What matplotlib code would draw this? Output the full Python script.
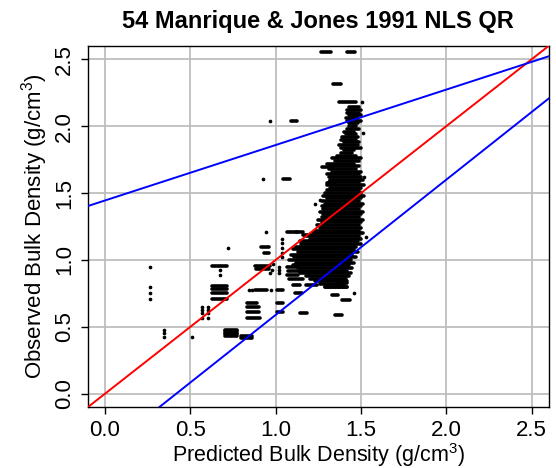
import matplotlib
matplotlib.use("Agg")
import matplotlib.pyplot as plt
import numpy as np

plt.rcParams['font.family'] = ['Liberation Sans', 'DejaVu Sans']
plt.rcParams['mathtext.fontset'] = 'custom'
plt.rcParams['mathtext.rm'] = 'Liberation Sans'

# dense horizontal runs of points: observed y, predicted x from / to
streak_y = [2.555, 2.555, 2.316, 2.18,
            2.14, 2.12, 2.10, 2.08, 2.06, 2.04, 2.02, 2.00, 1.98, 1.96,
            1.94, 1.92, 1.90, 1.88, 1.86, 1.84, 1.82, 1.80, 1.78, 1.76,
            1.74, 1.72, 1.70, 1.68, 1.66, 1.64, 1.62, 1.60, 1.58, 1.56,
            1.54, 1.52, 1.50, 1.48, 1.46, 1.44, 1.42, 1.40, 1.38, 1.36,
            1.34, 1.32, 1.30, 1.28, 1.26, 1.24, 1.22, 1.20, 1.18, 1.16,
            1.14, 1.12, 1.10, 1.08, 1.06, 1.04, 1.02, 1.00, 0.98, 0.96,
            0.94, 0.92, 0.90, 0.88, 0.86, 0.84, 0.82, 0.80,
            2.04, 1.604, 1.211, 1.095, 1.05,
            0.955, 0.806, 0.781, 0.751, 0.706,
            0.478, 0.466, 0.455, 0.443, 0.43, 0.43, 0.42,
            0.677, 0.652, 0.614, 0.565, 0.955, 0.93, 0.776,
            0.776, 0.677, 0.614, 0.602, 0.751, 0.813, 0.813,
            0.80, 0.826, 0.739, 0.70, 0.59, 0.95, 0.92, 0.89, 0.86,
            1.697, 1.575, 1.21, 1.19]
streak_x0 = [1.264, 1.416, 1.338, 1.373,
             1.43, 1.42, 1.42, 1.43, 1.41, 1.42, 1.43, 1.43, 1.42, 1.40,
             1.41, 1.39, 1.38, 1.40, 1.37, 1.38, 1.40, 1.38, 1.36, 1.33,
             1.35, 1.30, 1.32, 1.31, 1.33, 1.30, 1.31, 1.32, 1.31, 1.30,
             1.32, 1.30, 1.29, 1.28, 1.30, 1.27, 1.29, 1.27, 1.28, 1.26,
             1.28, 1.27, 1.25, 1.27, 1.24, 1.26, 1.23, 1.22, 1.18, 1.20,
             1.14, 1.15, 1.12, 1.10, 1.13, 1.09, 1.11, 1.08, 1.12, 1.10,
             1.13, 1.15, 1.14, 1.18, 1.20, 1.23, 1.26, 1.29,
             1.088, 1.041, 1.068, 0.912, 0.93,
             0.625, 0.625, 0.625, 0.625, 0.625,
             0.703, 0.703, 0.703, 0.703, 0.703, 0.80, 0.80,
             0.83, 0.83, 0.83, 0.83, 0.879, 0.885, 0.879,
             1.006, 1.006, 1.006, 1.14, 1.113, 1.104, 1.18,
             1.29, 1.367, 1.328, 1.39, 1.348, 1.065, 1.07, 1.065, 1.08,
             1.27, 1.30, 1.12, 1.16]
streak_x1 = [1.322, 1.467, 1.381, 1.471,
             1.49, 1.50, 1.49, 1.50, 1.48, 1.50, 1.48, 1.47, 1.49, 1.46,
             1.47, 1.48, 1.47, 1.49, 1.48, 1.50, 1.46, 1.45, 1.47, 1.50,
             1.49, 1.46, 1.49, 1.47, 1.50, 1.49, 1.50, 1.51, 1.49, 1.52,
             1.50, 1.49, 1.50, 1.52, 1.50, 1.49, 1.51, 1.50, 1.49, 1.51,
             1.50, 1.49, 1.51, 1.50, 1.49, 1.50, 1.49, 1.51, 1.49, 1.50,
             1.48, 1.50, 1.47, 1.46, 1.48, 1.45, 1.47, 1.44, 1.46, 1.43,
             1.45, 1.42, 1.44, 1.43, 1.41, 1.42, 1.40, 1.42,
             1.127, 1.084, 1.127, 0.963, 0.96,
             0.713, 0.713, 0.713, 0.713, 0.713,
             0.771, 0.771, 0.771, 0.771, 0.771, 0.86, 0.86,
             0.89, 0.90, 0.90, 0.91, 0.967, 0.96, 0.947,
             1.045, 1.045, 1.045, 1.186, 1.152, 1.143, 1.244,
             1.416, 1.416, 1.367, 1.435, 1.387, 1.143, 1.15, 1.13, 1.16,
             1.33, 1.34, 1.16, 1.21]

# isolated points
point_x = [1.504, 0.969, 0.924, 0.945, 0.721, 0.264, 0.264, 0.264, 0.264,
           0.346, 0.346, 0.346, 0.508, 0.674, 0.674, 0.566, 0.605, 0.566,
           0.605, 0.566, 0.605, 0.566, 0.605, 0.86, 0.846, 0.97, 1.035,
           1.035, 1.035, 1.035, 1.035, 1.02, 1.02, 1.02, 0.977, 0.987,
           0.967, 1.51, 1.52, 1.53, 1.26, 1.23, 1.28, 1.46]
point_y = [2.18, 2.04, 1.604, 1.211, 1.09, 0.948, 0.801, 0.751, 0.706,
           0.478, 0.453, 0.428, 0.428, 0.925, 0.888, 0.65, 0.65, 0.627,
           0.627, 0.60, 0.60, 0.565, 0.565, 0.776, 0.776, 0.776, 1.16,
           1.125, 1.087, 1.05, 1.025, 0.95, 0.925, 0.90, 0.925, 0.97,
           0.90, 1.95, 1.62, 1.17, 1.45, 1.42, 1.39, 0.75]

# fitted lines (1:1 and quantile bounds)
line_x = [-0.1, 2.6]
one_to_one = [-0.1, 2.6]
upper_q = [1.403, 2.522]
lower_q = [-0.523, 2.207]

fig, ax = plt.subplots(figsize=(5.56, 4.68), dpi=100)
fig.subplots_adjust(left=0.158, right=0.987, top=0.902, bottom=0.130)

ax.grid(True, color='#bebebe', linewidth=1.3)
ax.set_axisbelow(True)

ax.hlines(streak_y, streak_x0, streak_x1, colors='black', linewidth=2.6,
          capstyle='round', zorder=3)
ax.scatter(point_x, point_y, s=7, color='black', linewidths=0, zorder=3)

ax.plot(line_x, one_to_one, color='red', linewidth=1.4, zorder=4)
ax.plot(line_x, upper_q, color='blue', linewidth=1.4, zorder=4)
ax.plot(line_x, lower_q, color='blue', linewidth=1.4, zorder=4)

ax.set_xlim(-0.1, 2.6)
ax.set_ylim(-0.1, 2.6)
ticks = [0.0, 0.5, 1.0, 1.5, 2.0, 2.5]
ax.set_xticks(ticks)
ax.set_yticks(ticks)
ax.set_xticklabels([f"{t:.1f}" for t in ticks])
ax.set_yticklabels([f"{t:.1f}" for t in ticks], rotation=90, va='center')
ax.tick_params(labelsize=16, length=5, width=1, pad=4)

for s in ax.spines.values():
    s.set_linewidth(1)

ax.set_xlabel(r"Predicted Bulk Density (g/cm$^{3}$)", fontsize=15.5, labelpad=0)
ax.set_ylabel(r"Observed Bulk Density (g/cm$^{3}$)", fontsize=16, labelpad=3)
ax.set_title("54 Manrique & Jones 1991 NLS QR", fontsize=17, fontweight='bold', pad=13)

fig.savefig("out.png", dpi=100)
